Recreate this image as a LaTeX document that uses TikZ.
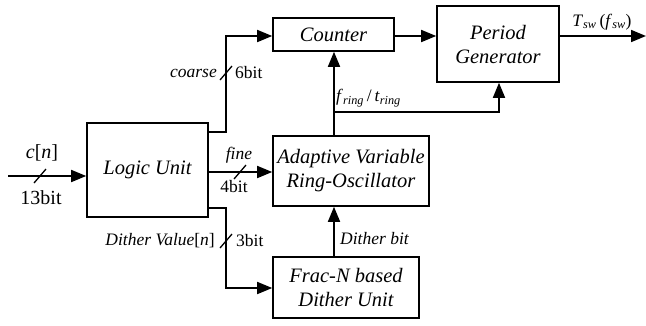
\documentclass[tikz,border=0pt]{standalone}
\usepackage{fontspec}
\setmainfont{Liberation Serif}
\usetikzlibrary{arrows.meta,calc}
\begin{document}
\begin{tikzpicture}[x=1pt,y=-1pt,
  blk/.style={draw,line width=1.6pt,inner sep=0pt,align=center,font=\fontsize{20.5}{24}\selectfont\itshape},
  conn/.style={line width=1.7pt,-{Triangle[length=15pt,width=12pt]}},
  lbl/.style={inner sep=0pt,font=\fontsize{17.5}{19}\selectfont},
  biglbl/.style={inner sep=0pt,font=\fontsize{20}{22}\selectfont},
  slash/.style={line width=1.3pt}]
\useasboundingbox (0,0) rectangle (646,325);
% blocks
\node[blk,minimum width=121pt,minimum height=94pt] (logic) at (147.5,170) {Logic Unit};
\node[blk,minimum width=121pt,minimum height=33pt] (counter) at (333.5,34.5) {Counter};
\node[blk,minimum width=122pt,minimum height=76pt] (period) at (498,44) {Period\\Generator};
\node[blk,minimum width=156pt,minimum height=70pt] (avro) at (351,171) {Adaptive Variable\\Ring-Oscillator};
\node[blk,minimum width=146pt,minimum height=61pt] (frac) at (346,287.5) {Frac-N based\\Dither Unit};
% coordinates
\coordinate (in) at (8,176);
\coordinate (out) at (646,36);
\coordinate (lc) at (logic.east |- 0,132);
\coordinate (lf) at (logic.east |- 0,172);
\coordinate (ld) at (logic.east |- 0,208);
\coordinate (fr) at (334,112);
% connectors
\draw[conn] (in) -- (in -| logic.west);
\draw[conn] (lc) -| (226,36) -- (counter.west |- 0,36);
\draw[conn] (lf) -- (avro.west |- lf);
\draw[conn] (ld) -| (226,288) -- (frac.west |- 0,288);
\draw[conn] (counter.east |- 0,36) -- (period.west |- 0,36);
\draw[conn] (period.east |- out) -- (out);
\draw[conn] (fr |- avro.north) -- (fr |- counter.south);
\draw[conn] (fr) -| (499,0 |- period.south);
\draw[conn] (fr |- frac.north) -- (fr |- avro.south);
% slashes
\draw[slash] (34,183) -- (46,169);
\draw[slash] (220,80) -- (232,66);
\draw[slash] (234,179) -- (246,165);
\draw[slash] (220,248) -- (232,234);
% labels
\node[biglbl] (cn) at (42,153) {\textit{c}[\textit{n}]};
\node[biglbl] (b13) at (41,198) {13bit};
\node[lbl,anchor=east] (coarse) at (217,73) {\textit{coarse}};
\node[lbl,anchor=west] (b6) at (235,73) {6bit};
\node[lbl] (fine) at (239,155) {\textit{fine}};
\node[lbl] (b4) at (234,187) {4bit};
\node[lbl,anchor=east] (dv) at (215,241) {\textit{Dither Value}[\textit{n}]};
\node[lbl,anchor=west] (b3) at (236,241) {3bit};
\node[lbl,anchor=west] (db) at (340,239) {\textit{Dither bit}};
\node[lbl,anchor=south west] (frl) at (336,107) {\textit{f}\textsubscript{\textit{ring}}\,/\,\textit{t}\textsubscript{\textit{ring}}};
\node[lbl,anchor=south] (tsw) at (602,30) {\textit{T}\textsubscript{\textit{sw}}\,(\textit{f}\textsubscript{\textit{sw}})};
\end{tikzpicture}
\end{document}
